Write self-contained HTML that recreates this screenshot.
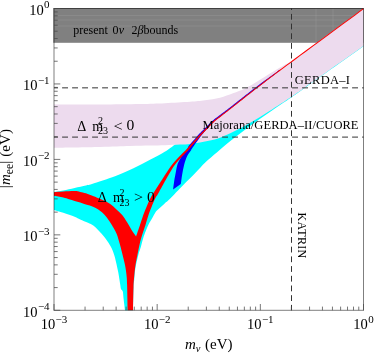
<!DOCTYPE html>
<html><head><meta charset="utf-8">
<style>
html,body{margin:0;padding:0;background:#fff;}
body{width:374px;height:354px;overflow:hidden;}
svg{display:block;will-change:transform;}
text{font-family:"Liberation Serif",serif;fill:#000;}
</style></head><body>
<svg width="374" height="354" viewBox="0 0 374 354">
<rect width="374" height="354" fill="#fff"/>
<rect x="53.3" y="8" width="310.2" height="34.8" fill="#808080"/>
<g stroke="#fff" stroke-opacity="0.1" stroke-width="0.8"><line x1="54.0" y1="15.5" x2="363.5" y2="15.5"/><line x1="54.0" y1="20" x2="363.5" y2="20"/><line x1="54.0" y1="26" x2="363.5" y2="26"/><line x1="316" y1="8.5" x2="316" y2="42.8"/><line x1="333" y1="8.5" x2="333" y2="42.8"/></g>
<path fill="#00ffff" d="M54.00,191.90C55.55,191.65 59.87,191.07 63.30,190.40 C66.73,189.73 70.83,188.73 74.60,187.90 C78.37,187.07 83.00,186.05 85.90,185.40 C88.80,184.75 87.15,185.52 92.00,184.00 C96.85,182.48 108.08,178.92 115.00,176.30 C121.92,173.68 127.67,171.05 133.50,168.30 C139.33,165.55 144.80,162.55 150.00,159.80 C155.20,157.05 160.70,154.23 164.70,151.80 C168.70,149.37 172.45,146.30 174.00,145.20L200.00,128.00 L290.00,75.00 L352.00,30.00 L362.50,44.00L363.50,46.35C353.75,53.26 316.98,79.32 305.00,87.80 C293.02,96.28 297.52,93.18 291.60,97.25 C285.68,101.32 276.10,107.66 269.50,112.20 C262.90,116.74 257.78,120.27 252.00,124.50 C246.22,128.73 240.57,133.02 234.80,137.60 C229.03,142.18 222.28,147.88 217.40,152.00 C212.52,156.12 209.15,158.83 205.50,162.30 C201.85,165.77 199.20,169.02 195.50,172.80 C191.80,176.58 187.55,180.67 183.30,185.00 C179.05,189.33 173.10,195.73 170.00,198.80 C166.90,201.87 166.37,201.92 164.70,203.40 C163.03,204.88 161.38,206.43 160.00,207.70 C158.62,208.97 157.32,209.95 156.40,211.00 C155.48,212.05 155.18,212.83 154.50,214.00 C153.82,215.17 153.35,216.12 152.30,218.00 C151.25,219.88 149.63,222.20 148.20,225.30 C146.77,228.40 144.92,233.02 143.70,236.60 C142.48,240.18 141.80,243.73 140.90,246.80 C140.00,249.87 139.22,251.47 138.30,255.00 C137.38,258.53 136.08,263.83 135.40,268.00 C134.72,272.17 134.52,276.75 134.20,280.00 C133.88,283.25 133.70,282.45 133.50,287.50 C133.30,292.55 133.08,306.50 133.00,310.30L125.00,310.30C124.75,308.25 123.87,301.13 123.50,298.00 C123.13,294.87 123.22,293.00 122.80,291.50 C122.38,290.00 121.42,290.08 121.00,289.00 C120.58,287.92 120.75,287.75 120.30,285.00 C119.85,282.25 119.02,276.33 118.30,272.50 C117.58,268.67 116.68,264.92 116.00,262.00 C115.32,259.08 115.03,257.50 114.20,255.00 C113.37,252.50 112.45,249.75 111.00,247.00 C109.55,244.25 107.62,241.28 105.50,238.50 C103.38,235.72 100.33,232.45 98.30,230.30 C96.27,228.15 95.02,226.85 93.30,225.60 C91.58,224.35 90.18,223.82 88.00,222.80 C85.82,221.78 82.43,220.52 80.20,219.50 C77.97,218.48 77.42,217.82 74.60,216.70 C71.78,215.58 66.73,213.93 63.30,212.80 C59.87,211.67 55.55,210.38 54.00,209.90Z"/>
<path fill="#eddbee" d="M54.00,104.60C61.67,104.58 85.67,104.60 100.00,104.50 C114.33,104.40 129.17,104.22 140.00,104.00 C150.83,103.78 156.67,103.57 165.00,103.20 C173.33,102.83 183.33,102.28 190.00,101.80 C196.67,101.32 200.00,100.98 205.00,100.30 C210.00,99.62 215.33,98.87 220.00,97.70 C224.67,96.53 228.83,94.83 233.00,93.30 C237.17,91.77 240.83,90.55 245.00,88.50 C249.17,86.45 253.83,83.50 258.00,81.00 C262.17,78.50 266.33,75.75 270.00,73.50 C273.67,71.25 276.40,69.53 280.00,67.50 C283.60,65.47 289.67,62.33 291.60,61.30L363.50,8.50L363.50,46.00C353.75,52.90 316.98,78.95 305.00,87.40 C293.02,95.85 297.52,92.77 291.60,96.70 C285.68,100.63 276.10,106.83 269.50,111.00 C262.90,115.17 257.78,118.37 252.00,121.70 C246.22,125.03 240.13,128.33 234.80,131.00 C229.47,133.67 224.13,136.10 220.00,137.70 C215.87,139.30 213.33,139.78 210.00,140.60 C206.67,141.42 203.33,142.05 200.00,142.60 C196.67,143.15 193.33,143.57 190.00,143.90 C186.67,144.23 184.17,144.38 180.00,144.60 C175.83,144.82 170.00,145.03 165.00,145.20 C160.00,145.37 155.83,145.45 150.00,145.60 C144.17,145.75 138.33,145.87 130.00,146.10 C121.67,146.33 112.67,146.72 100.00,147.00 C87.33,147.28 61.67,147.67 54.00,147.80Z"/>
<path fill="#0000ff" d="M173.10,189.40C173.28,188.00 173.83,183.40 174.20,181.00 C174.57,178.60 174.78,177.67 175.30,175.00 C175.82,172.33 176.55,167.58 177.30,165.00 C178.05,162.42 178.92,161.17 179.80,159.50 C180.68,157.83 181.57,156.42 182.60,155.00 C183.63,153.58 185.43,151.67 186.00,151.00L186.87,149.69 L187.24,148.96 L187.60,148.24 L187.95,147.52 L188.29,146.81 L188.62,146.11 L189.02,145.49 L189.48,144.95 L189.93,144.41 L190.37,143.90 L190.80,143.40 L191.21,142.92 L191.61,142.46 L191.98,142.04 L192.33,141.65 L192.65,141.29 L192.95,140.96 L193.24,140.64 L193.52,140.34 L193.78,140.05 L194.05,139.76 L194.31,139.47 L194.57,139.18 L194.84,138.88 L195.12,138.57 L195.40,138.24 L195.69,137.90 L195.99,137.56 L196.28,137.21 L196.58,136.85 L196.87,136.50 L197.17,136.15 L197.47,135.80 L197.76,135.45 L198.06,135.11 L198.35,134.78 L198.64,134.45 L198.91,134.15 L199.17,133.88 L199.42,133.62 L199.66,133.37 L199.90,133.13 L200.14,132.90 L200.38,132.66 L200.63,132.41 L200.90,132.15 L201.18,131.87 L201.49,131.57 L201.83,131.24 L202.20,130.88 L202.59,130.49 L203.01,130.08 L203.44,129.66 L203.89,129.22 L204.36,128.77 L204.83,128.31 L205.30,127.85 L205.78,127.39 L206.26,126.92 L206.73,126.46 L207.20,126.00 L207.66,125.55 L208.12,125.09 L208.59,124.62 L209.06,124.14 L209.54,123.65 L210.02,123.17 L210.51,122.68 L211.00,122.19 L211.50,121.71 L212.00,121.24 L212.51,120.77 L213.02,120.32 L213.53,119.89 L214.01,119.48 L214.49,119.10 L214.96,118.73 L215.43,118.37 L215.91,118.01 L216.40,117.65 L216.91,117.28 L217.44,116.89 L218.00,116.47 L218.61,116.03 L219.26,115.54 L219.96,115.01 L220.71,114.44 L221.51,113.85 L222.33,113.23 L223.19,112.59 L224.06,111.94 L224.95,111.27 L225.84,110.60 L226.73,109.92 L227.61,109.25 L228.48,108.58 L229.32,107.93 L230.14,107.29 L230.94,106.67 L231.73,106.05 L232.51,105.44 L233.29,104.83 L234.08,104.21 L234.88,103.57 L235.70,102.93 L236.55,102.25 L237.44,101.56 L238.36,100.83 L239.34,100.06 L240.36,99.26 L241.42,98.43 L242.52,97.57 L243.64,96.68 L244.80,95.77 L245.98,94.85 L247.18,93.91 L248.40,92.96 L249.63,91.99 L250.87,91.03 L252.12,90.06 L253.38,89.09 L254.63,88.13 L255.89,87.17 L257.15,86.20 L258.43,85.23 L259.72,84.25 L261.05,83.28 L262.39,82.30 L263.76,81.31 L265.16,80.30 L266.59,79.26 L268.06,78.21 L269.57,77.12 L270.94,76.13 L272.09,75.31 L273.09,74.58 L274.03,73.91 L275.00,73.21 L276.08,72.43 L277.37,71.52 L278.92,70.37L279.34,70.93 L277.79,72.08 L276.53,73.03 L275.46,73.83 L274.51,74.54 L273.59,75.24 L272.60,75.99 L271.48,76.84 L270.12,77.86 L268.64,78.97 L267.20,80.06 L265.79,81.13 L264.42,82.17 L263.07,83.19 L261.75,84.20 L260.44,85.20 L259.16,86.18 L257.89,87.16 L256.63,88.13 L255.37,89.09 L254.12,90.06 L252.87,91.03 L251.63,92.00 L250.39,92.96 L249.16,93.93 L247.95,94.88 L246.75,95.83 L245.57,96.75 L244.42,97.66 L243.30,98.55 L242.20,99.42 L241.14,100.25 L240.12,101.06 L239.15,101.82 L238.23,102.56 L237.34,103.25 L236.49,103.93 L235.67,104.58 L234.87,105.21 L234.09,105.84 L233.31,106.45 L232.53,107.07 L231.74,107.69 L230.94,108.32 L230.12,108.96 L229.28,109.62 L228.41,110.29 L227.53,110.97 L226.64,111.65 L225.76,112.33 L224.88,113.00 L224.02,113.67 L223.18,114.33 L222.36,114.96 L221.58,115.57 L220.85,116.15 L220.15,116.70 L219.51,117.20 L218.91,117.67 L218.35,118.10 L217.83,118.50 L217.33,118.88 L216.85,119.25 L216.39,119.61 L215.94,119.97 L215.49,120.34 L215.04,120.71 L214.58,121.11 L214.11,121.53 L213.62,121.98 L213.14,122.43 L212.67,122.90 L212.19,123.38 L211.72,123.87 L211.24,124.36 L210.77,124.85 L210.31,125.34 L209.84,125.83 L209.38,126.31 L208.92,126.79 L208.46,127.26 L208.00,127.73 L207.53,128.20 L207.08,128.69 L206.64,129.20 L206.21,129.70 L205.78,130.20 L205.36,130.69 L204.95,131.17 L204.56,131.63 L204.18,132.07 L203.83,132.49 L203.49,132.89 L203.19,133.25 L202.90,133.58 L202.65,133.89 L202.41,134.17 L202.18,134.44 L201.97,134.69 L201.76,134.94 L201.56,135.19 L201.35,135.44 L201.14,135.71 L200.92,135.99 L200.68,136.30 L200.44,136.63 L200.20,136.97 L199.95,137.32 L199.69,137.68 L199.44,138.05 L199.17,138.43 L198.91,138.81 L198.64,139.19 L198.38,139.57 L198.11,139.96 L197.84,140.34 L197.57,140.71 L197.31,141.07 L197.06,141.41 L196.81,141.73 L196.57,142.05 L196.33,142.37 L196.09,142.69 L195.85,143.01 L195.60,143.35 L195.34,143.71 L195.06,144.08 L194.76,144.49 L194.45,144.94 L194.12,145.41 L193.78,145.92 L193.42,146.46 L193.05,147.02 L192.66,147.61 L192.25,148.22 L191.83,148.84 L191.40,149.48 L190.95,150.13L191.30,150.00C190.62,151.00 188.40,153.50 187.20,156.00 C186.00,158.50 184.95,161.83 184.10,165.00 C183.25,168.17 182.65,171.83 182.10,175.00 C181.55,178.17 181.02,182.50 180.80,184.00Z"/>
<path fill="#ff0000" d="M54.00,192.20C55.55,192.10 59.87,191.78 63.30,191.60 C66.73,191.42 71.78,191.05 74.60,191.10 C77.42,191.15 78.32,191.53 80.20,191.90 C82.08,192.27 83.67,192.58 85.90,193.30 C88.13,194.02 91.37,195.33 93.60,196.20 C95.83,197.07 97.40,197.72 99.30,198.50 C101.20,199.28 103.12,199.93 105.00,200.90 C106.88,201.87 108.73,202.92 110.60,204.30 C112.47,205.68 114.27,207.43 116.20,209.20 C118.13,210.97 120.38,212.72 122.20,214.90 C124.02,217.08 125.58,219.87 127.10,222.30 C128.62,224.73 129.80,227.13 131.30,229.50 C132.80,231.87 135.30,235.33 136.10,236.50C136.75,234.58 138.80,228.58 140.00,225.00 C141.20,221.42 142.22,218.00 143.30,215.00 C144.38,212.00 145.47,209.50 146.50,207.00 C147.53,204.50 148.55,202.00 149.50,200.00 C150.45,198.00 151.75,195.83 152.20,195.00L152.88,193.92 L153.12,193.51 L153.34,193.12 L153.57,192.75 L153.80,192.40 L154.03,192.05 L154.26,191.69 L154.51,191.32 L154.77,190.93 L155.04,190.51 L155.35,190.05 L155.68,189.53 L156.05,188.96 L156.47,188.31 L156.94,187.58 L157.44,186.80 L157.97,185.96 L158.52,185.10 L159.09,184.21 L159.66,183.31 L160.23,182.42 L160.79,181.54 L161.34,180.70 L161.85,179.89 L162.34,179.15 L162.78,178.45 L163.21,177.79 L163.62,177.15 L164.02,176.54 L164.40,175.94 L164.78,175.35 L165.16,174.77 L165.54,174.20 L165.92,173.62 L166.30,173.04 L166.70,172.45 L167.11,171.84 L167.52,171.23 L167.93,170.62 L168.34,170.00 L168.75,169.37 L169.17,168.75 L169.59,168.11 L170.03,167.48 L170.47,166.84 L170.93,166.21 L171.40,165.57 L171.88,164.94 L172.38,164.30 L172.89,163.67 L173.40,163.03 L173.93,162.40 L174.47,161.77 L175.01,161.14 L175.57,160.51 L176.13,159.89 L176.70,159.27 L177.28,158.64 L177.86,158.02 L178.44,157.40 L179.03,156.78 L179.63,156.15 L180.26,155.51 L180.90,154.88 L181.55,154.24 L182.20,153.61 L182.85,152.97 L183.50,152.35 L184.14,151.73 L184.76,151.12 L185.37,150.52 L185.95,149.93 L186.50,149.35 L187.04,148.78 L187.56,148.21 L188.08,147.64 L188.58,147.07 L189.08,146.50 L189.56,145.95 L190.02,145.40 L190.48,144.87 L190.92,144.36 L191.35,143.86 L191.76,143.39 L192.16,142.94 L192.53,142.52 L192.88,142.14 L193.20,141.79 L193.50,141.45 L193.79,141.14 L194.07,140.84 L194.34,140.55 L194.60,140.27 L194.87,139.98 L195.13,139.69 L195.41,139.39 L195.69,139.07 L195.98,138.74 L196.28,138.40 L196.57,138.05 L196.87,137.70 L197.17,137.35 L197.47,137.00 L197.77,136.65 L198.07,136.30 L198.36,135.96 L198.66,135.63 L198.95,135.30 L199.23,134.99 L199.50,134.69 L199.76,134.42 L200.00,134.17 L200.24,133.92 L200.47,133.69 L200.70,133.45 L200.94,133.21 L201.19,132.97 L201.46,132.71 L201.74,132.43 L202.05,132.12 L202.38,131.79 L202.75,131.42 L203.14,131.04 L203.56,130.63 L203.99,130.20 L204.44,129.76 L204.90,129.31 L205.36,128.85 L205.84,128.39 L206.31,127.92 L206.79,127.45 L207.26,126.99 L207.73,126.53 L208.19,126.07 L208.65,125.60 L209.12,125.13 L209.59,124.65 L210.06,124.16 L210.54,123.67 L211.02,123.19 L211.51,122.70 L212.00,122.22 L212.49,121.75 L212.99,121.29 L213.49,120.84 L213.99,120.42 L214.46,120.02 L214.93,119.64 L215.39,119.28 L215.86,118.92 L216.33,118.56 L216.81,118.20 L217.32,117.82 L217.85,117.43 L218.41,117.01 L219.01,116.56 L219.66,116.06 L220.36,115.53 L221.11,114.96 L221.90,114.37 L222.73,113.74 L223.58,113.10 L224.45,112.44 L225.33,111.77 L226.22,111.09 L227.10,110.41 L227.98,109.73 L228.85,109.06 L229.69,108.41 L230.51,107.76 L231.31,107.14 L232.10,106.52 L232.88,105.90 L233.65,105.29 L234.44,104.66 L235.24,104.03 L236.06,103.38 L236.91,102.71 L237.79,102.01 L238.72,101.28 L239.69,100.51 L240.71,99.70 L241.77,98.87 L242.86,98.00 L243.99,97.12 L245.14,96.20 L246.32,95.28 L247.51,94.33 L248.73,93.38 L249.96,92.41 L251.20,91.44 L252.44,90.47 L253.69,89.50 L254.95,88.54 L256.20,87.57 L257.46,86.60 L258.73,85.63 L260.02,84.64 L261.32,83.65 L262.65,82.64 L263.99,81.61 L265.37,80.57 L266.78,79.50 L268.22,78.42 L269.70,77.30 L271.06,76.28 L272.18,75.43 L273.16,74.68 L274.09,73.99 L275.04,73.27 L276.11,72.47 L277.37,71.52 L278.92,70.37 L280.85,68.94 L283.23,67.18 L286.15,65.02 L289.70,62.40 L294.19,59.09 L299.71,55.02 L306.04,50.36 L312.96,45.26 L320.26,39.90 L327.70,34.42 L335.08,28.99 L342.17,23.78 L348.74,18.94 L354.59,14.64 L359.48,11.04 L363.20,8.30L363.80,9.10 L360.07,11.84 L355.18,15.44 L349.34,19.74 L342.76,24.58 L335.67,29.79 L328.30,35.22 L320.85,40.70 L313.56,46.07 L306.63,51.17 L300.30,55.83 L294.78,59.89 L290.30,63.20 L286.74,65.82 L283.82,67.99 L281.44,69.75 L279.52,71.17 L277.97,72.32 L276.71,73.27 L275.64,74.07 L274.69,74.78 L273.77,75.48 L272.78,76.23 L271.66,77.08 L270.30,78.10 L268.82,79.21 L267.38,80.30 L265.97,81.37 L264.60,82.41 L263.25,83.43 L261.93,84.44 L260.63,85.44 L259.34,86.42 L258.07,87.39 L256.81,88.36 L255.56,89.33 L254.31,90.30 L253.06,91.26 L251.81,92.23 L250.57,93.20 L249.35,94.16 L248.13,95.12 L246.93,96.06 L245.76,96.99 L244.61,97.90 L243.48,98.79 L242.39,99.65 L241.33,100.49 L240.31,101.29 L239.34,102.06 L238.41,102.79 L237.53,103.49 L236.68,104.16 L235.86,104.81 L235.06,105.45 L234.27,106.07 L233.50,106.69 L232.72,107.30 L231.93,107.92 L231.13,108.55 L230.31,109.19 L229.46,109.85 L228.59,110.52 L227.71,111.20 L226.83,111.89 L225.94,112.57 L225.06,113.24 L224.20,113.91 L223.36,114.57 L222.55,115.20 L221.77,115.81 L221.03,116.39 L220.34,116.94 L219.69,117.44 L219.09,117.91 L218.53,118.34 L218.01,118.74 L217.51,119.12 L217.04,119.49 L216.58,119.85 L216.13,120.20 L215.68,120.57 L215.23,120.94 L214.78,121.34 L214.31,121.76 L213.83,122.20 L213.35,122.65 L212.87,123.12 L212.40,123.59 L211.93,124.08 L211.46,124.57 L210.99,125.06 L210.52,125.55 L210.06,126.04 L209.59,126.52 L209.13,127.00 L208.67,127.47 L208.21,127.94 L207.75,128.41 L207.28,128.89 L206.81,129.36 L206.34,129.83 L205.88,130.30 L205.43,130.76 L204.99,131.20 L204.56,131.63 L204.16,132.05 L203.78,132.44 L203.42,132.81 L203.08,133.15 L202.78,133.46 L202.50,133.75 L202.24,134.01 L202.00,134.26 L201.77,134.50 L201.55,134.73 L201.32,134.97 L201.10,135.20 L200.87,135.46 L200.63,135.72 L200.37,136.01 L200.10,136.32 L199.82,136.64 L199.54,136.97 L199.26,137.31 L198.97,137.66 L198.68,138.01 L198.38,138.37 L198.09,138.73 L197.79,139.08 L197.50,139.44 L197.20,139.79 L196.91,140.13 L196.62,140.46 L196.35,140.78 L196.08,141.08 L195.82,141.37 L195.56,141.66 L195.29,141.96 L195.02,142.26 L194.74,142.58 L194.45,142.91 L194.13,143.26 L193.80,143.65 L193.44,144.06 L193.07,144.51 L192.67,144.98 L192.26,145.48 L191.83,146.00 L191.39,146.54 L190.93,147.10 L190.46,147.68 L189.97,148.26 L189.47,148.85 L188.96,149.45 L188.43,150.05 L187.90,150.65 L187.34,151.25 L186.75,151.87 L186.15,152.49 L185.53,153.12 L184.90,153.76 L184.26,154.40 L183.62,155.04 L182.99,155.69 L182.36,156.33 L181.75,156.96 L181.15,157.59 L180.57,158.22 L180.00,158.85 L179.44,159.47 L178.88,160.10 L178.32,160.73 L177.77,161.35 L177.23,161.97 L176.70,162.60 L176.18,163.22 L175.67,163.84 L175.17,164.46 L174.69,165.08 L174.22,165.70 L173.78,166.32 L173.35,166.95 L172.94,167.59 L172.54,168.22 L172.15,168.86 L171.76,169.50 L171.38,170.14 L171.01,170.78 L170.63,171.42 L170.25,172.07 L169.87,172.71 L169.49,173.36 L169.12,173.98 L168.76,174.59 L168.41,175.18 L168.07,175.77 L167.73,176.36 L167.39,176.95 L167.04,177.55 L166.69,178.16 L166.33,178.79 L165.96,179.45 L165.57,180.13 L165.16,180.85 L164.73,181.62 L164.27,182.45 L163.79,183.33 L163.29,184.23 L162.78,185.16 L162.27,186.09 L161.76,187.02 L161.26,187.92 L160.79,188.78 L160.34,189.60 L159.92,190.36 L159.55,191.04 L159.21,191.65 L158.90,192.20 L158.62,192.69 L158.37,193.14 L158.13,193.55 L157.92,193.93 L157.71,194.29 L157.52,194.64 L157.33,194.98 L157.14,195.33 L156.94,195.69 L156.72,196.08L157.30,195.00C156.82,195.83 155.87,196.67 154.40,200.00 C152.93,203.33 150.00,210.78 148.50,215.00 C147.00,219.22 146.48,221.88 145.40,225.30 C144.32,228.72 142.93,232.48 142.00,235.50 C141.07,238.52 140.53,240.32 139.80,243.40 C139.07,246.48 138.35,250.18 137.60,254.00 C136.85,257.82 135.88,262.37 135.30,266.30 C134.72,270.23 134.40,274.15 134.10,277.60 C133.80,281.05 133.68,281.55 133.50,287.00 C133.32,292.45 133.08,306.42 133.00,310.30L127.60,310.30C127.52,306.08 127.28,290.88 127.10,285.00 C126.92,279.12 126.85,278.33 126.50,275.00 C126.15,271.67 125.75,268.75 125.00,265.00 C124.25,261.25 122.87,256.00 122.00,252.50 C121.13,249.00 120.68,247.08 119.80,244.00 C118.92,240.92 117.83,236.83 116.70,234.00 C115.57,231.17 114.23,229.17 113.00,227.00 C111.77,224.83 110.72,223.03 109.30,221.00 C107.88,218.97 106.17,216.58 104.50,214.80 C102.83,213.02 101.12,211.60 99.30,210.30 C97.48,209.00 95.83,207.95 93.60,207.00 C91.37,206.05 88.13,205.33 85.90,204.60 C83.67,203.87 82.08,203.22 80.20,202.60 C78.32,201.98 76.47,201.47 74.60,200.90 C72.73,200.33 70.88,199.77 69.00,199.20 C67.12,198.63 65.80,198.07 63.30,197.50 C60.80,196.93 55.55,196.08 54.00,195.80Z"/>
<g stroke="#333" stroke-width="1" stroke-dasharray="5.9 4.1" fill="none">
<line x1="54.0" y1="87.85" x2="363.5" y2="87.85" stroke-dashoffset="1.9"/>
<line x1="54.0" y1="137.1" x2="363.5" y2="137.1" stroke-dashoffset="1.9"/>
<line x1="291.5" y1="310.3" x2="291.5" y2="8.5" stroke-dasharray="5.8 3.9" stroke-dashoffset="0.4"/>
</g>
<rect x="54.0" y="8.5" width="309.5" height="301.8" fill="none" stroke="#000" stroke-opacity="0.5" stroke-width="1"/>
<g stroke="#4a4a4a" stroke-width="0.75">
<line x1="54.00" y1="310.3" x2="54.00" y2="304.0"/>
<line x1="85.06" y1="310.3" x2="85.06" y2="306.6"/>
<line x1="103.22" y1="310.3" x2="103.22" y2="306.6"/>
<line x1="116.11" y1="310.3" x2="116.11" y2="306.6"/>
<line x1="126.11" y1="310.3" x2="126.11" y2="306.6"/>
<line x1="134.28" y1="310.3" x2="134.28" y2="306.6"/>
<line x1="141.19" y1="310.3" x2="141.19" y2="306.6"/>
<line x1="147.17" y1="310.3" x2="147.17" y2="306.6"/>
<line x1="152.45" y1="310.3" x2="152.45" y2="306.6"/>
<line x1="157.17" y1="310.3" x2="157.17" y2="304.0"/>
<line x1="188.22" y1="310.3" x2="188.22" y2="306.6"/>
<line x1="206.39" y1="310.3" x2="206.39" y2="306.6"/>
<line x1="219.28" y1="310.3" x2="219.28" y2="306.6"/>
<line x1="229.28" y1="310.3" x2="229.28" y2="306.6"/>
<line x1="237.45" y1="310.3" x2="237.45" y2="306.6"/>
<line x1="244.35" y1="310.3" x2="244.35" y2="306.6"/>
<line x1="250.34" y1="310.3" x2="250.34" y2="306.6"/>
<line x1="255.61" y1="310.3" x2="255.61" y2="306.6"/>
<line x1="260.33" y1="310.3" x2="260.33" y2="304.0"/>
<line x1="291.39" y1="310.3" x2="291.39" y2="306.6"/>
<line x1="309.56" y1="310.3" x2="309.56" y2="306.6"/>
<line x1="322.45" y1="310.3" x2="322.45" y2="306.6"/>
<line x1="332.44" y1="310.3" x2="332.44" y2="306.6"/>
<line x1="340.61" y1="310.3" x2="340.61" y2="306.6"/>
<line x1="347.52" y1="310.3" x2="347.52" y2="306.6"/>
<line x1="353.50" y1="310.3" x2="353.50" y2="306.6"/>
<line x1="358.78" y1="310.3" x2="358.78" y2="306.6"/>
<line x1="363.50" y1="310.3" x2="363.50" y2="304.0"/>
<line x1="54.0" y1="8.50" x2="60.3" y2="8.50"/>
<line x1="54.0" y1="61.24" x2="57.7" y2="61.24"/>
<line x1="54.0" y1="47.95" x2="57.7" y2="47.95"/>
<line x1="54.0" y1="38.52" x2="57.7" y2="38.52"/>
<line x1="54.0" y1="31.21" x2="57.7" y2="31.21"/>
<line x1="54.0" y1="25.24" x2="57.7" y2="25.24"/>
<line x1="54.0" y1="20.19" x2="57.7" y2="20.19"/>
<line x1="54.0" y1="15.81" x2="57.7" y2="15.81"/>
<line x1="54.0" y1="11.95" x2="57.7" y2="11.95"/>
<line x1="54.0" y1="83.95" x2="60.3" y2="83.95"/>
<line x1="54.0" y1="136.69" x2="57.7" y2="136.69"/>
<line x1="54.0" y1="123.40" x2="57.7" y2="123.40"/>
<line x1="54.0" y1="113.97" x2="57.7" y2="113.97"/>
<line x1="54.0" y1="106.66" x2="57.7" y2="106.66"/>
<line x1="54.0" y1="100.69" x2="57.7" y2="100.69"/>
<line x1="54.0" y1="95.64" x2="57.7" y2="95.64"/>
<line x1="54.0" y1="91.26" x2="57.7" y2="91.26"/>
<line x1="54.0" y1="87.40" x2="57.7" y2="87.40"/>
<line x1="54.0" y1="159.40" x2="60.3" y2="159.40"/>
<line x1="54.0" y1="212.14" x2="57.7" y2="212.14"/>
<line x1="54.0" y1="198.85" x2="57.7" y2="198.85"/>
<line x1="54.0" y1="189.42" x2="57.7" y2="189.42"/>
<line x1="54.0" y1="182.11" x2="57.7" y2="182.11"/>
<line x1="54.0" y1="176.14" x2="57.7" y2="176.14"/>
<line x1="54.0" y1="171.09" x2="57.7" y2="171.09"/>
<line x1="54.0" y1="166.71" x2="57.7" y2="166.71"/>
<line x1="54.0" y1="162.85" x2="57.7" y2="162.85"/>
<line x1="54.0" y1="234.85" x2="60.3" y2="234.85"/>
<line x1="54.0" y1="287.59" x2="57.7" y2="287.59"/>
<line x1="54.0" y1="274.30" x2="57.7" y2="274.30"/>
<line x1="54.0" y1="264.87" x2="57.7" y2="264.87"/>
<line x1="54.0" y1="257.56" x2="57.7" y2="257.56"/>
<line x1="54.0" y1="251.59" x2="57.7" y2="251.59"/>
<line x1="54.0" y1="246.54" x2="57.7" y2="246.54"/>
<line x1="54.0" y1="242.16" x2="57.7" y2="242.16"/>
<line x1="54.0" y1="238.30" x2="57.7" y2="238.30"/>
<line x1="54.0" y1="310.30" x2="60.3" y2="310.30"/>
</g>
<g font-size="14.5">
<text x="49.6" y="14.8" text-anchor="end">10<tspan font-size="11" dx="0.4" dy="-6.5">0</tspan></text>
<text x="49.6" y="90.2" text-anchor="end">10<tspan font-size="11" dx="0.4" dy="-6.5">−1</tspan></text>
<text x="49.6" y="165.7" text-anchor="end">10<tspan font-size="11" dx="0.4" dy="-6.5">−2</tspan></text>
<text x="49.6" y="241.2" text-anchor="end">10<tspan font-size="11" dx="0.4" dy="-6.5">−3</tspan></text>
<text x="49.6" y="316.6" text-anchor="end">10<tspan font-size="11" dx="0.4" dy="-6.5">−4</tspan></text>
<text x="54.0" y="329.3" text-anchor="middle">10<tspan font-size="11" dx="0.4" dy="-6.5">−3</tspan></text>
<text x="157.2" y="329.3" text-anchor="middle">10<tspan font-size="11" dx="0.4" dy="-6.5">−2</tspan></text>
<text x="260.3" y="329.3" text-anchor="middle">10<tspan font-size="11" dx="0.4" dy="-6.5">−1</tspan></text>
<text x="363.5" y="329.3" text-anchor="middle">10<tspan font-size="11" dx="0.4" dy="-6.5">0</tspan></text>
</g>
<g font-size="12">
<text x="73.3" y="33.6">present</text>
<text x="112.6" y="33.6">0</text>
<text x="118.8" y="33.6" font-style="italic">ν</text>
<text x="131.4" y="33.6">2</text>
<text x="137.5" y="33.6" font-style="italic">β</text>
<text x="143.4" y="33.6">bounds</text>
<text x="294.8" y="83.6" font-size="12.5" textLength="55.2" lengthAdjust="spacing">GERDA–I</text>
<text x="202.5" y="128.8" font-size="12.5" textLength="156" lengthAdjust="spacing">Majorana/GERDA–II/CUORE</text>
<text transform="translate(298.2,212.6) rotate(90)" textLength="45.6" lengthAdjust="spacing">KATRIN</text>
</g>
<g font-size="14" transform="translate(0,0)">
<text x="77.2" y="130.5">Δ</text><text x="92.3" y="130.5">m</text><text x="98.1" y="124.3" font-size="10">2</text><text x="98.1" y="134.2" font-size="10">23</text><text x="113.5" y="130.5" textLength="9.1" lengthAdjust="spacingAndGlyphs">&lt;</text><text x="126.4" y="130.4" font-size="14.7" textLength="7.8" lengthAdjust="spacingAndGlyphs">0</text>
</g>
<g font-size="14" transform="translate(20.6,71.6)">
<text x="77.2" y="130.5">Δ</text><text x="92.3" y="130.5">m</text><text x="98.8" y="124.3" font-size="10">2</text><text x="98.8" y="134.2" font-size="10">23</text><text x="113.5" y="130.5" textLength="9.1" lengthAdjust="spacingAndGlyphs">&gt;</text><text x="126.4" y="130.4" font-size="14.7" textLength="7.8" lengthAdjust="spacingAndGlyphs">0</text>
</g>
<text font-size="15" letter-spacing="0.1" transform="translate(10,188.2) rotate(-90)">|<tspan font-style="italic">m</tspan><tspan font-size="11.5" dy="3.2">ee</tspan><tspan dy="-3.2">| (eV)</tspan></text>
<text font-size="15" x="185" y="349.3"><tspan font-style="italic">m</tspan><tspan font-size="10.5" dy="3" font-style="italic">ν</tspan><tspan dy="-3" dx="0.8"> (eV)</tspan></text>
</svg>
</body></html>
